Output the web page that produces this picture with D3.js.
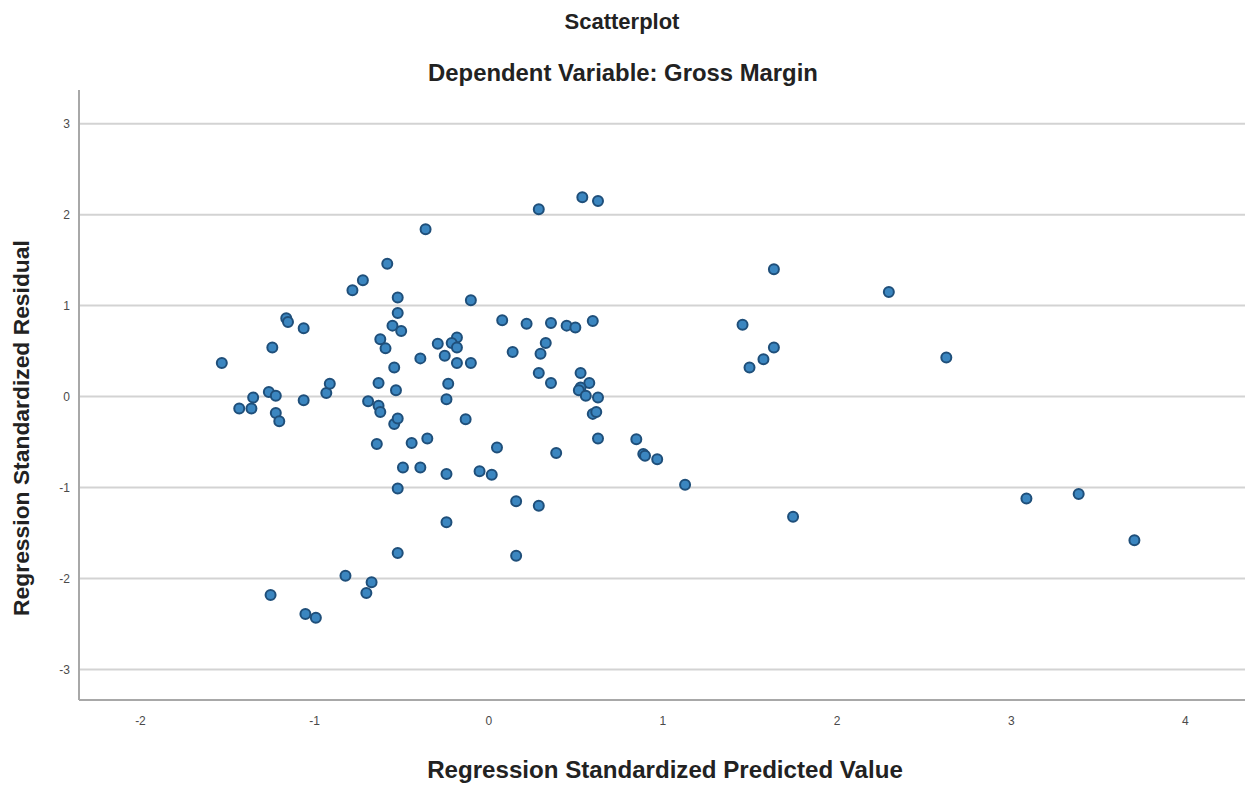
<!DOCTYPE html>
<html>
<head>
<meta charset="utf-8">
<script src="https://cdn.jsdelivr.net/npm/d3@7"></script>
<style>
  html, body { margin: 0; padding: 0; background: #fff; }
  svg { display: block; font-family: "Liberation Sans", Arial, sans-serif; }
</style>
</head>
<body>
<svg id="chart" width="1245" height="787"></svg>
<script>
// residuals vs predicted values
const predicted = [
  -1.53, -1.24, -1.16, -1.15, -1.06, -0.78, -0.72, -0.52, -0.52, -0.55,
  -0.50, -0.62, -0.59, -0.54, -0.63, -0.53, -1.43, -1.36, -1.35, -1.26,
  -1.22, -1.22, -1.20, -1.06, -0.93, -0.91, -0.69, -0.63, -0.62, -0.54,
  -0.52, -0.64, -0.44, -0.49, -0.39, -0.52, -0.52, -0.82, -0.67, -0.70,
  -1.25, -1.05, -0.99, -0.58, -0.36, 0.29, -0.10, 0.08, 0.22, 0.36,
  0.33, 0.30, 0.14, -0.29, -0.25, -0.18, -0.21, -0.18, -0.18, -0.10,
  -0.39, 0.29, -0.23, -0.24, 0.36, -0.13, -0.35, 0.05, 0.39, -0.24,
  -0.05, 0.02, 0.16, 0.29, -0.24, 0.16, 0.54, 0.63, 0.45, 0.50,
  0.60, 0.53, 0.58, 0.53, 0.52, 0.56, 0.63, 0.60, 0.62, 0.63,
  0.85, 0.89, 0.90, 0.97, 1.13, 1.64, 2.30, 1.46, 1.64, 1.58,
  1.50, 2.63, 1.75, 3.09, 3.39, 3.71
]
const residual = [
  0.37, 0.54, 0.86, 0.82, 0.75, 1.17, 1.28, 1.09, 0.92, 0.78,
  0.72, 0.63, 0.53, 0.32, 0.15, 0.07, -0.13, -0.13, -0.01, 0.05,
  0.01, -0.18, -0.27, -0.04, 0.04, 0.14, -0.05, -0.10, -0.17, -0.30,
  -0.24, -0.52, -0.51, -0.78, -0.78, -1.01, -1.72, -1.97, -2.04, -2.16,
  -2.18, -2.39, -2.43, 1.46, 1.84, 2.06, 1.06, 0.84, 0.80, 0.81,
  0.59, 0.47, 0.49, 0.58, 0.45, 0.65, 0.59, 0.54, 0.37, 0.37,
  0.42, 0.26, 0.14, -0.03, 0.15, -0.25, -0.46, -0.56, -0.62, -0.85,
  -0.82, -0.86, -1.15, -1.20, -1.38, -1.75, 2.19, 2.15, 0.78, 0.76,
  0.83, 0.26, 0.15, 0.10, 0.07, 0.01, -0.01, -0.19, -0.17, -0.46,
  -0.47, -0.63, -0.65, -0.69, -0.97, 1.40, 1.15, 0.79, 0.54, 0.41,
  0.32, 0.43, -1.32, -1.12, -1.07, -1.58
]
const xTicks = [-2, -1, 0, 1, 2, 3, 4]
const yTicks = [-3, -2, -1, 0, 1, 2, 3]

const titleText = "Scatterplot"
const subtitleText = "Dependent Variable: Gross Margin"
const xLabel = "Regression Standardized Predicted Value"
const yLabel = "Regression Standardized Residual"

const svg = d3.select("#chart")
const plotLeft = 79, plotRight = 1245, plotTop = 90, plotBottom = 700

const x = d3.scaleLinear().domain([-2.35, 4.345]).range([plotLeft, plotRight])
const y = d3.scaleLinear().domain([-3.335, 3.37]).range([plotBottom, plotTop])

// horizontal grid lines
svg.append("g")
  .selectAll("line")
  .data(yTicks)
  .join("line")
  .attr("x1", plotLeft + 1)
  .attr("x2", plotRight)
  .attr("y1", (d) => y(d))
  .attr("y2", (d) => y(d))
  .attr("stroke", "#d3d3d3")
  .attr("stroke-width", 2)

// axis frame
svg.append("line")
  .attr("x1", plotLeft).attr("x2", plotLeft)
  .attr("y1", plotTop).attr("y2", plotBottom)
  .attr("stroke", "#a8a8a8").attr("stroke-width", 2)
svg.append("line")
  .attr("x1", plotLeft).attr("x2", plotRight)
  .attr("y1", plotBottom).attr("y2", plotBottom)
  .attr("stroke", "#a8a8a8").attr("stroke-width", 2)

// tick labels via d3 axes, with the domain and tick marks hidden
const fmt = (d) => String(d)
const xAxis = svg.append("g")
  .attr("transform", `translate(0,${plotBottom})`)
  .call(d3.axisBottom(x).tickValues(xTicks).tickFormat(fmt).tickSize(0).tickPadding(16))
const yAxis = svg.append("g")
  .attr("transform", `translate(${plotLeft},0)`)
  .call(d3.axisLeft(y).tickValues(yTicks).tickFormat(fmt).tickSize(0).tickPadding(9))
;[xAxis, yAxis].forEach((g) => {
  g.select(".domain").remove()
  g.selectAll("text")
    .attr("font-family", "'Liberation Sans', Arial, sans-serif")
    .attr("font-size", 12)
    .attr("fill", "#4a4a4a")
})

// points
svg.append("g")
  .selectAll("circle")
  .data(predicted.map((p, i) => [p, residual[i]]))
  .join("circle")
  .attr("cx", (d) => x(d[0]))
  .attr("cy", (d) => y(d[1]))
  .attr("r", 5)
  .attr("fill", "#3b86c0")
  .attr("stroke", "#1f4f7a")
  .attr("stroke-width", 2)

// fit a text to a target width by scaling its font size
function fitText(sel, width) {
  const w = sel.node().getComputedTextLength()
  const fs = parseFloat(sel.attr("font-size"))
  sel.attr("font-size", (fs * width) / w)
}

const title = svg.append("text")
  .attr("x", 622).attr("y", 29)
  .attr("text-anchor", "middle")
  .attr("font-weight", "bold").attr("font-size", 18)
  .attr("fill", "#222")
  .text(titleText)
fitText(title, 115)

const subtitle = svg.append("text")
  .attr("x", 623).attr("y", 81)
  .attr("text-anchor", "middle")
  .attr("font-weight", "bold").attr("font-size", 20)
  .attr("fill", "#222")
  .text(subtitleText)
fitText(subtitle, 390)

const xl = svg.append("text")
  .attr("x", 665).attr("y", 778)
  .attr("text-anchor", "middle")
  .attr("font-weight", "bold").attr("font-size", 21)
  .attr("fill", "#222")
  .text(xLabel)
fitText(xl, 476)

const yl = svg.append("text")
  .attr("transform", "translate(29,428) rotate(-90)")
  .attr("text-anchor", "middle")
  .attr("font-weight", "bold").attr("font-size", 20)
  .attr("fill", "#222")
  .text(yLabel)
fitText(yl, 376)
</script>
</body>
</html>
